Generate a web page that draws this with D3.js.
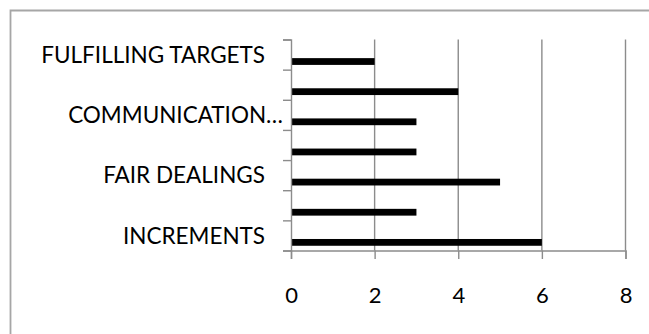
<!DOCTYPE html>
<html>
<head>
<meta charset="utf-8">
<script src="https://cdn.jsdelivr.net/npm/d3@7/dist/d3.min.js"></script>
<style>
  html, body { margin: 0; padding: 0; background: #fff; }
  svg { display: block; }
  text { font-family: Lato, "Open Sans", sans-serif; fill: #000; }
</style>
</head>
<body>
<svg id="chart" width="649" height="334"></svg>
<script>
// Category labels, bottom to top (Excel only prints every other one)
const categories = ["INCREMENTS", "", "FAIR DEALINGS", "", "COMMUNICATION\u2026", "", "FULFILLING TARGETS"];
// Bar values, bottom to top
const values = [6, 3, 5, 3, 3, 4, 2];
// Value axis ticks
const xTicks = [0, 2, 4, 6, 8];

const svg = d3.select("#chart");
const W = 649, H = 334;
const plot = { left: 291, right: 625.5, top: 39.5, bottom: 250.5 };
const gray = "#8c8c8c";

// Outer chart frame (open on the right and bottom edges of the window)
svg.append("path")
  .attr("d", `M10.5,${H + 2} V10.5 H${W + 2}`)
  .attr("fill", "none")
  .attr("stroke", "#a6a6a6")
  .attr("stroke-width", 1.8);

const x = d3.scaleLinear().domain([0, 8]).range([plot.left, plot.right]);
const y = d3.scaleBand().domain(d3.range(categories.length)).range([plot.bottom, plot.top]);
const yEdge = d3.scaleLinear().domain([0, categories.length]).range([plot.bottom, plot.top]);
const bw = y.bandwidth();

// Vertical gridlines
svg.append("g")
  .selectAll("line")
  .data(xTicks.filter(t => t > 0))
  .join("line")
  .attr("x1", d => x(d)).attr("x2", d => x(d))
  .attr("y1", plot.top).attr("y2", plot.bottom)
  .attr("stroke", gray).attr("stroke-width", 1.4);

// Bars
svg.append("g")
  .selectAll("rect")
  .data(values)
  .join("rect")
  .attr("x", x(0))
  .attr("y", (d, i) => y(i) + bw * 0.618)
  .attr("width", d => x(d) - x(0))
  .attr("height", bw * 0.225)
  .attr("fill", "#000");

// Category axis: ticks at band edges
const yAxis = svg.append("g")
  .attr("transform", `translate(${plot.left},0)`)
  .call(d3.axisLeft(yEdge).tickValues(d3.range(categories.length + 1)).tickSize(8).tickFormat(""));
yAxis.select(".domain").attr("stroke", gray).attr("stroke-width", 1.4);
yAxis.selectAll(".tick line").attr("stroke", gray).attr("stroke-width", 1.4);

// Category labels
svg.append("g")
  .selectAll("text")
  .data(categories)
  .join("text")
  .attr("x", d => d.endsWith("\u2026") ? 283 : 265)
  .attr("y", (d, i) => y(i) + bw / 2)
  .attr("dy", "0.36em")
  .attr("text-anchor", "end")
  .attr("font-size", 22.5)
  .text(d => d);

// Value axis
const xAxis = svg.append("g")
  .attr("transform", `translate(0,${plot.bottom})`)
  .call(d3.axisBottom(x).tickValues(xTicks).tickSize(8.5).tickPadding(28).tickFormat(d3.format("d")));
xAxis.select(".domain").attr("stroke", gray).attr("stroke-width", 1.4);
xAxis.selectAll(".tick line").attr("stroke", gray).attr("stroke-width", 1.4);
xAxis.selectAll(".tick text")
  .attr("font-size", 22)
  .attr("font-family", "Lato, 'Open Sans', sans-serif")
  .attr("fill", "#000");
</script>
</body>
</html>
